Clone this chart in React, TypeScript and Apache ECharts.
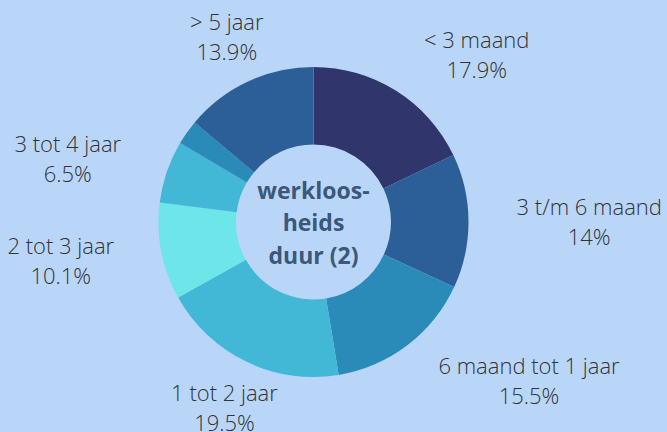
import React, { useEffect, useRef } from "react";
import * as echarts from "echarts";

const categories = [
  "< 3 maand",
  "3 t/m 6 maand",
  "6 maand tot 1 jaar",
  "1 tot 2 jaar",
  "2 tot 3 jaar",
  "3 tot 4 jaar",
  "4 tot 5 jaar",
  "> 5 jaar",
];
const values = [17.9, 14, 15.5, 19.5, 10.1, 6.5, 2.6, 13.9];
const colors = [
  "#30356c",
  "#2c5f97",
  "#2b8bb8",
  "#42b8d6",
  "#6ee5e9",
  "#42b8d6",
  "#2b8bb8",
  "#2c5f97",
];
// label placement per slice: "side" = outside left/right, "vertical" = centered, "none" = hidden
const labelMode = ["side", "side", "side", "vertical", "side", "side", "none", "vertical"];
const centerTitle = "werkloos-\nheids\nduur (2)";

const BG = "#b9d6f8";
const TEXT = "#333333";

export default function App() {
  const ref = useRef<HTMLDivElement>(null);
  useEffect(() => {
    document.body.style.margin = "0";
    const chart = echarts.init(ref.current!, null, { renderer: "svg" });
    const fmt = (p: any) => `{a|${p.name}}\n{a|${p.value}%}`;
    const labelStyle = {
      fontFamily: "Open Sans",
      fontSize: 22,
      fontWeight: 300 as any,
      color: TEXT,
      lineHeight: 30,
      rich: {
        a: {
          fontFamily: "Open Sans",
          fontSize: 22,
          fontWeight: 300 as any,
          color: TEXT,
          lineHeight: 30,
          align: "center",
        },
      },
    };
    chart.setOption({
      animation: false,
      backgroundColor: BG,
      graphic: [
        {
          type: "text",
          x: 313.5,
          y: 222,
          z: 100,
          style: {
            text: centerTitle,
            fontFamily: "Open Sans",
            fontWeight: "bold",
            fontSize: 23,
            lineHeight: 32.5,
            fill: "#3b5878",
            align: "center",
            verticalAlign: "middle",
          },
        },
      ],
      series: [
        {
          type: "pie",
          center: [313.5, 222],
          radius: [77.5, 155],
          startAngle: 90,
          clockwise: true,
          avoidLabelOverlap: false,
          silent: true,
          label: {
            position: "outside",
            formatter: fmt,
            ...labelStyle,
          },
          labelLine: { show: false, length: 43, length2: 0 },
          data: categories.map((name, i) => ({
            name,
            value: values[i],
            itemStyle: { color: colors[i] },
            label: { show: labelMode[i] === "side" },
          })),
        },
        {
          type: "pie",
          center: [313.5, 222],
          radius: [190, 214],
          startAngle: 90,
          clockwise: true,
          avoidLabelOverlap: false,
          silent: true,
          z: 1,
          itemStyle: { color: "rgba(0,0,0,0)" },
          label: {
            position: "inside",
            formatter: fmt,
            ...labelStyle,
          },
          labelLine: { show: false },
          data: categories.map((name, i) => ({
            name,
            value: values[i],
            label: { show: labelMode[i] === "vertical" },
          })),
        },
      ],
    });
    return () => chart.dispose();
  }, []);
  return (
    <div
      ref={ref}
      style={{ position: "fixed", left: 0, top: 0, width: 667, height: 432 }}
    />
  );
}
